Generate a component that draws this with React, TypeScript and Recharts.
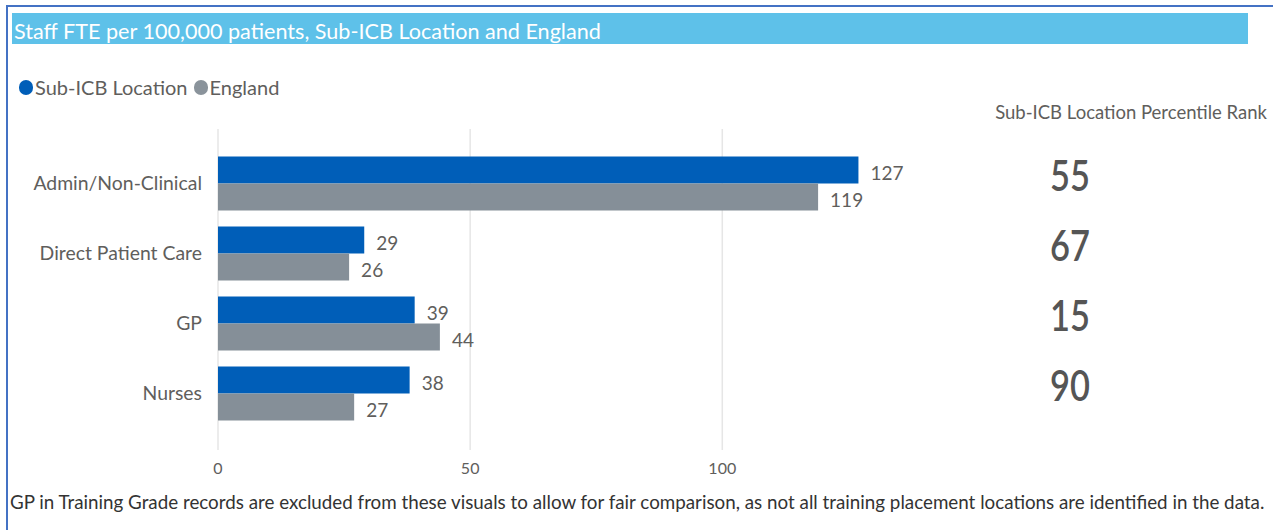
import React from "react";
import { BarChart, Bar, XAxis, YAxis, CartesianGrid, LabelList } from "recharts";

const categories = ["Admin/Non-Clinical", "Direct Patient Care", "GP", "Nurses"];
const subIcbValues = [127, 29, 39, 38];
const englandValues = [119, 26, 44, 27];
const percentileRanks = [55, 67, 15, 90];
const xTicks = [0, 50, 100];

const data = categories.map((c, i) => ({
  category: c,
  subIcb: subIcbValues[i],
  england: englandValues[i],
  rank: percentileRanks[i],
}));

const BLUE = "#005EB8";
const GREY = "#858F98";
const FONT = "Lato, 'Open Sans', sans-serif";

const RankTick = (props: any) => {
  const { x, y, payload, index } = props;
  const cx = x + 146;
  const rank = percentileRanks[index] ?? payload.value;
  return (
    <g transform={`translate(${cx},${y - 7}) scale(0.82,1)`}>
      <text
        x={0}
        y={0}
        dy="0.36em"
        textAnchor="middle"
        fill="#555555"
        fontSize={42}
        fontWeight={600}
        fontFamily={FONT}
      >
        {rank}
      </text>
    </g>
  );
};

export default function App() {
  return (
    <div
      style={{
        position: "absolute",
        left: 0,
        top: 0,
        width: 1273,
        height: 530,
        background: "#ffffff",
        overflow: "hidden",
        fontFamily: FONT,
      }}
    >
      <div style={{ position: "absolute", left: 6, top: 5, width: 1267, height: 2, background: "#4472C4" }} />
      <div style={{ position: "absolute", left: 6, top: 5, width: 2, height: 525, background: "#4472C4" }} />
      <div
        style={{
          position: "absolute",
          left: 12,
          top: 13,
          width: 1236,
          height: 31,
          background: "#5EC1E9",
          color: "#ffffff",
          fontSize: 21.6,
          lineHeight: "36px",
          paddingLeft: 2,
          boxSizing: "border-box",
          whiteSpace: "nowrap",
        }}
      >
        Staff FTE per 100,000 patients, Sub-ICB Location and England
      </div>
      <div
        style={{
          position: "absolute",
          left: 19,
          top: 74,
          height: 26,
          display: "flex",
          alignItems: "center",
          fontSize: 20,
          color: "#605E5C",
          whiteSpace: "nowrap",
        }}
      >
        <span style={{ display: "inline-block", width: 14, height: 15, borderRadius: 8, background: BLUE, marginRight: 2 }} />
        <span style={{ marginRight: 6 }}>Sub-ICB Location</span>
        <span style={{ display: "inline-block", width: 14, height: 15, borderRadius: 8, background: "#8A939B", marginRight: 2 }} />
        <span>England</span>
      </div>
      <div
        style={{
          position: "absolute",
          right: 6,
          top: 101,
          fontSize: 18.5,
          color: "#605E5C",
          whiteSpace: "nowrap",
        }}
      >
        Sub-ICB Location Percentile Rank
      </div>
      <div style={{ position: "absolute", left: 0, top: 0 }}>
        <BarChart
          width={1273}
          height={530}
          data={data}
          layout="vertical"
          margin={{ top: 129, right: 0, bottom: 50, left: 0 }}
          barCategoryGap="12%"
          barGap={0}
        >
          <CartesianGrid horizontal={false} verticalValues={xTicks} stroke="#E6E6E6" strokeWidth={1.5} />
          <XAxis
            type="number"
            domain={[0, 140]}
            ticks={xTicks}
            axisLine={false}
            tickLine={false}
            tickSize={0}
            tickMargin={13}
            height={30}
            tick={{ fill: "#605E5C", fontSize: 16, fontFamily: FONT }}
          />
          <YAxis
            type="category"
            dataKey="category"
            width={218}
            axisLine={false}
            tickLine={false}
            tickSize={0}
            tickMargin={16}
            padding={{ top: 19, bottom: 22 }}
            tick={{ fill: "#605E5C", fontSize: 19.4, fontFamily: FONT }}
          />
          <YAxis
            yAxisId="right"
            orientation="right"
            type="category"
            dataKey="category"
            width={349}
            axisLine={false}
            tickLine={false}
            tickSize={0}
            tickMargin={0}
            padding={{ top: 19, bottom: 22 }}
            tick={<RankTick />}
          />
          <Bar dataKey="subIcb" name="Sub-ICB Location" fill={BLUE} isAnimationActive={false}>
            <LabelList dataKey="subIcb" position="right" offset={12} dy={3} fill="#605E5C" fontSize={19} fontFamily={FONT} />
          </Bar>
          <Bar dataKey="england" name="England" fill={GREY} isAnimationActive={false}>
            <LabelList dataKey="england" position="right" offset={12} dy={3} fill="#605E5C" fontSize={19} fontFamily={FONT} />
          </Bar>
        </BarChart>
      </div>
      <div
        style={{
          position: "absolute",
          left: 10,
          top: 490,
          fontSize: 18.8,
          color: "#333333",
          whiteSpace: "nowrap",
        }}
      >
        GP in Training Grade records are excluded from these visuals to allow for fair comparison, as not all training placement locations are identified in the data.
      </div>
    </div>
  );
}
